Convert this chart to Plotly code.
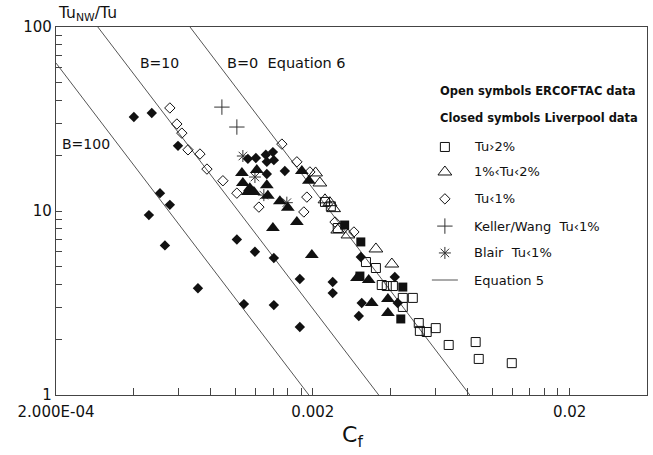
import plotly.graph_objects as go

# ---------------- data: skin friction Cf vs near-wall turbulence ratio ----------------
# ERCOFTAC data (open symbols)
erc_sq_cf = [2.23e-3, 2.35e-3, 2.50e-3, 3.22e-3, 3.52e-3, 3.71e-3, 3.88e-3, 4.10e-3, 4.48e-3,
             4.90e-3, 4.48e-3, 5.17e-3, 5.22e-3, 5.55e-3, 6.02e-3, 6.76e-3, 8.61e-3, 8.85e-3, 1.19e-2]
erc_sq_tu = [11.2, 10.6, 8.08, 5.28, 4.90, 3.96, 3.91, 3.91, 3.37,
             3.37, 3.01, 2.46, 2.23, 2.20, 2.31, 1.87, 1.94, 1.57, 1.49]

erc_tri_cf = [2.05e-3, 2.13e-3, 2.23e-3, 2.33e-3, 2.41e-3, 2.50e-3, 2.74e-3, 3.52e-3, 4.06e-3]
erc_tri_tu = [16.1, 14.2, 11.5, 11.1, 10.3, 7.88, 7.41, 6.22, 5.15]

erc_dia_cf = [5.55e-4, 5.91e-4, 6.18e-4, 6.53e-4, 7.27e-4, 7.74e-4, 8.93e-4, 1.012e-3,
              1.233e-3, 1.515e-3, 1.733e-3, 1.895e-3, 1.845e-3, 1.948e-3, 2.44e-3, 2.89e-3]
erc_dia_tu = [36.3, 29.7, 26.5, 21.5, 20.4, 16.9, 14.6, 12.5,
              10.5, 23.1, 18.5, 11.9, 9.88, 16.3, 8.71, 7.69]

keller_cf = [8.85e-4, 1.012e-3]
keller_tu = [36.7, 28.6]

blair_cf = [1.068e-3, 1.19e-3, 1.289e-3, 1.584e-3]
blair_tu = [19.9, 15.3, 12.2, 11.1]

# Liverpool data (closed symbols)
liv_sq_cf = [2.66e-3, 3.075e-3, 3.05e-3, 4.48e-3, 4.40e-3]
liv_sq_tu = [8.39, 6.79, 4.43, 3.86, 2.59]

liv_tri_cf = [1.059e-3, 1.21e-3, 1.068e-3, 1.137e-3, 1.117e-3, 1.179e-3, 1.324e-3, 1.336e-3,
              1.488e-3, 1.598e-3, 1.733e-3, 1.398e-3, 1.982e-3, 1.812e-3, 1.93e-3,
              2.97e-3, 3.30e-3, 3.39e-3, 3.92e-3, 3.92e-3]
liv_tri_tu = [16.1, 16.7, 14.2, 13.3, 12.7, 12.7, 13.8, 12.1,
              11.3, 10.4, 8.71, 8.08, 5.77, 16.5, 14.6,
              4.32, 4.22, 3.16, 3.32, 2.79]

liv_dia_cf = [4.02e-4, 4.72e-4, 5.97e-4, 5.08e-4, 5.55e-4, 4.60e-4, 5.31e-4, 7.14e-4,
              1.012e-3, 1.19e-3, 1.41e-3, 1.078e-3, 1.41e-3, 1.78e-3, 1.78e-3,
              1.117e-3, 1.20e-3, 1.312e-3, 1.398e-3, 1.324e-3, 1.41e-3, 1.324e-3, 1.556e-3,
              2.39e-3, 2.39e-3, 3.075e-3, 3.10e-3, 3.02e-3, 4.17e-3, 4.28e-3]
liv_dia_tu = [32.4, 34.1, 22.6, 12.5, 10.8, 9.5, 6.5, 3.8,
              7.0, 6.0, 5.55, 3.12, 3.08, 4.27, 2.34,
              19.2, 19.4, 20.2, 20.9, 18.5, 18.9, 15.9, 16.5,
              4.11, 3.58, 5.62, 3.16, 2.69, 4.38, 3.16]

# Equation 5 curves for B = 0, 10, 100 (end points on the log-log frame)
eq5_B = ["0", "10", "100"]
eq5_cf = [[6.65e-4, 8.17e-3], [2.91e-4, 3.61e-3], [2.0e-4, 1.93e-3]]
eq5_tu = [[100.0, 1.0], [100.0, 1.0], [63.7, 1.0]]

# axis ticks
x_major = [2e-4, 2e-3, 2e-2]
x_major_text = ["2.000E-04", "0.002", "0.02"]
y_major = [1, 10, 100]
y_major_text = ["1", "10", "100"]

FONT = "DejaVu Sans"
INK = "#111111"
LINE = "#555555"

fig = go.Figure()

for cfs, tus in zip(eq5_cf, eq5_tu):
    fig.add_trace(go.Scatter(x=cfs, y=tus, mode="lines",
                             line=dict(color=LINE, width=1), hoverinfo="skip"))


def pts(x, y, symbol, size, open_=False, color=INK):
    if open_:
        marker = dict(symbol=symbol, size=size, color=color, line=dict(color=color, width=1))
    else:
        marker = dict(symbol=symbol, size=size, color=color, line=dict(width=0))
    fig.add_trace(go.Scatter(x=x, y=y, mode="markers", marker=marker))


pts(keller_cf, keller_tu, "cross-thin", 11, open_=True, color="#333333")
pts(blair_cf, blair_tu, "asterisk", 10, open_=True, color="#333333")
pts(erc_sq_cf, erc_sq_tu, "square-open", 9, open_=True)
pts(erc_tri_cf, erc_tri_tu, "triangle-up-open", 12, open_=True)
pts(erc_dia_cf, erc_dia_tu, "diamond-open", 8, open_=True)
pts(liv_sq_cf, liv_sq_tu, "square", 9)
pts(liv_tri_cf, liv_tri_tu, "triangle-up", 12)
pts(liv_dia_cf, liv_dia_tu, "diamond", 8)

# ---------------- key (drawn on a hidden unit overlay) ----------------
legend_x_sym = 0.658
legend_x_text = 0.704
legend_rows = [
    ("square-open", 9, "Tu›2%", 0.674, INK),
    ("triangle-up-open", 12, "1%‹Tu‹2%", 0.606, INK),
    ("diamond-open", 8, "Tu‹1%", 0.533, INK),
    ("cross-thin", 11, "Keller/Wang  Tu‹1%", 0.459, "#333333"),
    ("asterisk", 10, "Blair  Tu‹1%", 0.386, "#333333"),
]
for sym, size, label, yy, col in legend_rows:
    fig.add_trace(go.Scatter(x=[legend_x_sym], y=[yy], mode="markers", xaxis="x2", yaxis="y2",
                             marker=dict(symbol=sym, size=size, color=col,
                                         line=dict(color=col, width=1))))
    fig.add_annotation(x=legend_x_text, y=yy, xref="paper", yref="paper", text=label,
                       showarrow=False, xanchor="left", yanchor="middle",
                       font=dict(family=FONT, size=13, color=INK))
fig.add_trace(go.Scatter(x=[0.636, 0.680], y=[0.3125, 0.3125], mode="lines", xaxis="x2", yaxis="y2",
                         line=dict(color=LINE, width=1)))
fig.add_annotation(x=legend_x_text, y=0.3125, xref="paper", yref="paper", text="Equation 5",
                   showarrow=False, xanchor="left", yanchor="middle",
                   font=dict(family=FONT, size=13, color=INK))
for txt, yy in [("Open symbols ERCOFTAC data", 0.826), ("Closed symbols Liverpool data", 0.753)]:
    fig.add_annotation(x=0.646, y=yy, xref="paper", yref="paper", text="<b>" + txt + "</b>",
                       showarrow=False, xanchor="left", yanchor="middle",
                       font=dict(family=FONT, size=11.5, color=INK))

# curve labels
for txt, xx, yy, fs in [("B=10", 0.139, 0.902, 14), ("B=0  Equation 6", 0.286, 0.902, 14.5),
                        ("B=100", 0.007, 0.682, 14)]:
    fig.add_annotation(x=xx, y=yy, xref="paper", yref="paper", text=txt.replace("  ", "\u00a0 "),
                       showarrow=False, xanchor="left", yanchor="middle",
                       font=dict(family=FONT, size=fs, color=INK))

# axis titles
fig.add_annotation(x=0.0, y=1.035, xref="paper", yref="paper", text="Tu<sub>NW</sub>/Tu",
                   showarrow=False, xanchor="left", yanchor="middle",
                   font=dict(family=FONT, size=15.5, color=INK))
fig.add_annotation(x=0.501, y=-0.112, xref="paper", yref="paper", text="C<sub>f</sub>",
                   showarrow=False, xanchor="center", yanchor="middle",
                   font=dict(family=FONT, size=22, color=INK))

x_minor = [k * 1e-4 for k in range(4, 20, 2)] + [k * 1e-3 for k in range(4, 20, 2)]
y_minor = [k for k in range(2, 10)] + [10 * k for k in range(2, 10)]

fig.update_layout(
    width=653, height=455,
    margin=dict(l=56, r=6, t=27, b=60),
    paper_bgcolor="white", plot_bgcolor="white",
    showlegend=False,
    font=dict(family=FONT, color=INK),
    xaxis=dict(type="log", range=[-3.69897, -1.39794], showgrid=False, zeroline=False,
               showline=True, linecolor="#444444", linewidth=1.2, mirror=True,
               ticks="inside", ticklen=7, tickcolor="#444444", ticklabelstandoff=3,
               tickvals=x_major, ticktext=x_major_text,
               tickfont=dict(family=FONT, size=15, color=INK),
               minor=dict(tickvals=x_minor, ticks="inside", ticklen=7, tickcolor="#444444")),
    yaxis=dict(type="log", range=[0, 2], showgrid=False, zeroline=False,
               showline=True, linecolor="#444444", linewidth=1.2, mirror=True,
               ticks="inside", ticklen=6, tickcolor="#444444",
               tickvals=y_major, ticktext=y_major_text,
               tickfont=dict(family=FONT, size=15, color=INK),
               minor=dict(tickvals=y_minor, ticks="inside", ticklen=6, tickcolor="#444444")),
    xaxis2=dict(overlaying="x", range=[0, 1], visible=False),
    yaxis2=dict(overlaying="y", range=[0, 1], visible=False),
)

fig.write_html("out.html")
